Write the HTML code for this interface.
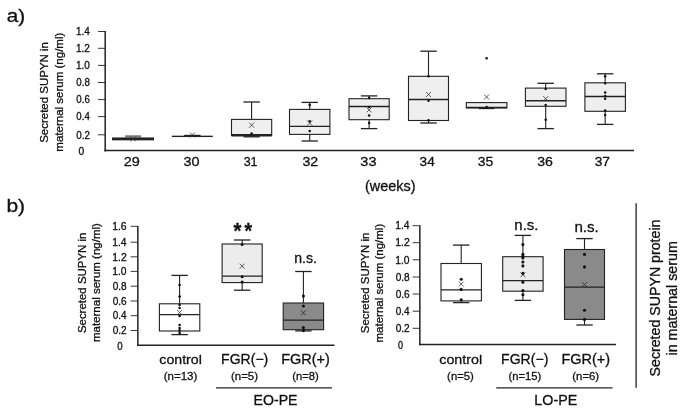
<!DOCTYPE html>
<html><head><meta charset="utf-8"><title>Secreted SUPYN in maternal serum</title>
<style>
html,body{margin:0;padding:0;background:#fff;}
body{width:685px;height:411px;overflow:hidden;}
svg{display:block;}
svg text{font-family:"Liberation Sans","Helvetica","Arial",sans-serif;stroke:#111;stroke-width:0.3px;stroke-linejoin:round;}
</style></head><body>
<svg width="685" height="411" viewBox="0 0 685 411">
<rect width="685" height="411" fill="#fff"/>
<text transform="translate(6.67,22.00) scale(1.1205,1)" font-size="18.5" fill="#111">a)</text>
<line x1="105.20" y1="31.10" x2="105.20" y2="151.40" stroke="#222" stroke-width="1.5"/>
<text transform="translate(78.44,155.10) scale(1.0309,1)" font-size="10.0" fill="#111">0</text>
<line x1="98.00" y1="134.80" x2="105.20" y2="134.80" stroke="#222" stroke-width="0.9"/>
<text transform="translate(76.36,138.50) scale(0.9779,1)" font-size="10.0" fill="#111">0.2</text>
<line x1="98.00" y1="116.60" x2="105.20" y2="116.60" stroke="#222" stroke-width="0.9"/>
<text transform="translate(76.36,120.30) scale(0.9631,1)" font-size="10.0" fill="#111">0.4</text>
<line x1="98.00" y1="99.60" x2="105.20" y2="99.60" stroke="#222" stroke-width="0.9"/>
<text transform="translate(76.36,103.30) scale(0.9741,1)" font-size="10.0" fill="#111">0.6</text>
<line x1="98.00" y1="82.50" x2="105.20" y2="82.50" stroke="#222" stroke-width="0.9"/>
<text transform="translate(76.36,86.20) scale(0.9741,1)" font-size="10.0" fill="#111">0.8</text>
<line x1="98.00" y1="65.40" x2="105.20" y2="65.40" stroke="#222" stroke-width="0.9"/>
<text transform="translate(75.95,69.10) scale(1.0008,1)" font-size="10.0" fill="#111">1.0</text>
<line x1="98.00" y1="48.30" x2="105.20" y2="48.30" stroke="#222" stroke-width="0.9"/>
<text transform="translate(75.94,52.00) scale(1.0087,1)" font-size="10.0" fill="#111">1.2</text>
<line x1="98.00" y1="31.50" x2="105.20" y2="31.50" stroke="#222" stroke-width="0.9"/>
<text transform="translate(75.96,35.20) scale(0.9930,1)" font-size="10.0" fill="#111">1.4</text>
<line x1="104.40" y1="150.60" x2="634.00" y2="150.60" stroke="#222" stroke-width="1.5"/>
<text transform="translate(48.30,142.82) rotate(-90) scale(0.9983,1)" font-size="11.5" fill="#111">Secreted SUPYN in</text>
<text transform="translate(62.90,151.65) rotate(-90) scale(1.0021,1)" font-size="11.5" fill="#111">maternal serum (ng/ml)</text>
<text transform="translate(123.68,166.10) scale(1.0637,1)" font-size="13.6" fill="#111">29</text>
<text transform="translate(183.50,166.10) scale(1.0593,1)" font-size="13.6" fill="#111">30</text>
<text transform="translate(243.66,166.10) scale(0.9199,1)" font-size="13.6" fill="#111">31</text>
<text transform="translate(302.50,166.10) scale(1.0411,1)" font-size="13.6" fill="#111">32</text>
<text transform="translate(360.29,166.10) scale(1.0716,1)" font-size="13.6" fill="#111">33</text>
<text transform="translate(419.62,166.10) scale(1.0003,1)" font-size="13.6" fill="#111">34</text>
<text transform="translate(477.71,166.10) scale(1.0290,1)" font-size="13.6" fill="#111">35</text>
<text transform="translate(537.21,166.10) scale(1.0361,1)" font-size="13.6" fill="#111">36</text>
<text transform="translate(594.72,166.10) scale(1.0126,1)" font-size="13.6" fill="#111">37</text>
<text transform="translate(365.03,191.00) scale(1.0455,1)" font-size="13.8" fill="#111">(weeks)</text>
<rect x="125.1" y="135.3" width="16" height="2.2" fill="#7a7a7a"/>
<rect x="112.60" y="138.00" width="40.90" height="1.80" fill="#efefef" stroke="#222" stroke-width="1.1"/>
<line x1="112.60" y1="138.90" x2="153.50" y2="138.90" stroke="#222" stroke-width="2.0"/>
<line x1="130.55" y1="136.40" x2="135.55" y2="141.40" stroke="#333" stroke-width="0.8"/>
<line x1="130.55" y1="141.40" x2="135.55" y2="136.40" stroke="#333" stroke-width="0.8"/>
<line x1="192.35" y1="135.50" x2="192.35" y2="136.10" stroke="#222" stroke-width="1.1"/>
<line x1="184.15" y1="135.50" x2="200.55" y2="135.50" stroke="#222" stroke-width="1.4"/>
<rect x="172.20" y="136.10" width="40.30" height="0.60" fill="#efefef" stroke="#222" stroke-width="0.7"/>
<line x1="172.20" y1="136.40" x2="212.50" y2="136.40" stroke="#222" stroke-width="0.8"/>
<line x1="189.85" y1="132.50" x2="194.85" y2="137.50" stroke="#333" stroke-width="0.8"/>
<line x1="189.85" y1="137.50" x2="194.85" y2="132.50" stroke="#333" stroke-width="0.8"/>
<line x1="251.60" y1="102.00" x2="251.60" y2="119.40" stroke="#222" stroke-width="1.1"/>
<line x1="243.40" y1="102.00" x2="259.80" y2="102.00" stroke="#222" stroke-width="1.3"/>
<line x1="251.60" y1="135.40" x2="251.60" y2="136.80" stroke="#222" stroke-width="1.1"/>
<line x1="243.40" y1="136.80" x2="259.80" y2="136.80" stroke="#222" stroke-width="1.3"/>
<rect x="231.50" y="119.40" width="40.20" height="16.00" fill="#efefef" stroke="#222" stroke-width="1.1"/>
<line x1="231.50" y1="135.20" x2="271.70" y2="135.20" stroke="#222" stroke-width="2.4"/>
<circle cx="251.60" cy="133.60" r="1.25" fill="#111"/>
<line x1="249.10" y1="122.70" x2="254.10" y2="127.70" stroke="#333" stroke-width="0.8"/>
<line x1="249.10" y1="127.70" x2="254.10" y2="122.70" stroke="#333" stroke-width="0.8"/>
<line x1="309.70" y1="102.40" x2="309.70" y2="109.40" stroke="#222" stroke-width="1.1"/>
<line x1="301.50" y1="102.40" x2="317.90" y2="102.40" stroke="#222" stroke-width="1.3"/>
<line x1="309.70" y1="134.40" x2="309.70" y2="141.00" stroke="#222" stroke-width="1.1"/>
<line x1="301.50" y1="141.00" x2="317.90" y2="141.00" stroke="#222" stroke-width="1.3"/>
<rect x="289.50" y="109.40" width="40.40" height="25.00" fill="#efefef" stroke="#222" stroke-width="1.1"/>
<line x1="289.50" y1="126.40" x2="329.90" y2="126.40" stroke="#222" stroke-width="1.3"/>
<circle cx="309.70" cy="105.00" r="1.25" fill="#111"/>
<circle cx="309.70" cy="121.20" r="1.25" fill="#111"/>
<circle cx="309.70" cy="131.00" r="1.25" fill="#111"/>
<line x1="307.20" y1="120.50" x2="312.20" y2="125.50" stroke="#333" stroke-width="0.8"/>
<line x1="307.20" y1="125.50" x2="312.20" y2="120.50" stroke="#333" stroke-width="0.8"/>
<line x1="369.10" y1="95.90" x2="369.10" y2="98.70" stroke="#222" stroke-width="1.1"/>
<line x1="360.90" y1="95.90" x2="377.30" y2="95.90" stroke="#222" stroke-width="1.3"/>
<line x1="369.10" y1="119.70" x2="369.10" y2="128.60" stroke="#222" stroke-width="1.1"/>
<line x1="360.90" y1="128.60" x2="377.30" y2="128.60" stroke="#222" stroke-width="1.3"/>
<rect x="349.00" y="98.70" width="40.20" height="21.00" fill="#efefef" stroke="#222" stroke-width="1.1"/>
<line x1="349.00" y1="106.50" x2="389.20" y2="106.50" stroke="#222" stroke-width="1.3"/>
<circle cx="369.10" cy="97.90" r="1.25" fill="#111"/>
<circle cx="369.10" cy="107.10" r="1.25" fill="#111"/>
<circle cx="369.10" cy="115.50" r="1.25" fill="#111"/>
<circle cx="369.10" cy="123.00" r="1.25" fill="#111"/>
<line x1="366.60" y1="107.40" x2="371.60" y2="112.40" stroke="#333" stroke-width="0.8"/>
<line x1="366.60" y1="112.40" x2="371.60" y2="107.40" stroke="#333" stroke-width="0.8"/>
<line x1="428.50" y1="51.20" x2="428.50" y2="76.30" stroke="#222" stroke-width="1.1"/>
<line x1="420.30" y1="51.20" x2="436.70" y2="51.20" stroke="#222" stroke-width="1.3"/>
<line x1="428.50" y1="120.50" x2="428.50" y2="123.00" stroke="#222" stroke-width="1.1"/>
<line x1="420.30" y1="123.00" x2="436.70" y2="123.00" stroke="#222" stroke-width="1.3"/>
<rect x="408.50" y="76.30" width="40.00" height="44.20" fill="#efefef" stroke="#222" stroke-width="1.1"/>
<line x1="408.50" y1="99.50" x2="448.50" y2="99.50" stroke="#222" stroke-width="1.3"/>
<circle cx="428.50" cy="76.30" r="1.25" fill="#111"/>
<circle cx="428.50" cy="100.70" r="1.25" fill="#111"/>
<circle cx="428.50" cy="120.20" r="1.25" fill="#111"/>
<line x1="426.00" y1="92.00" x2="431.00" y2="97.00" stroke="#333" stroke-width="0.8"/>
<line x1="426.00" y1="97.00" x2="431.00" y2="92.00" stroke="#333" stroke-width="0.8"/>
<line x1="486.60" y1="107.90" x2="486.60" y2="108.50" stroke="#222" stroke-width="1.1"/>
<line x1="478.85" y1="108.50" x2="494.35" y2="108.50" stroke="#222" stroke-width="1.3"/>
<rect x="466.30" y="102.60" width="40.60" height="5.30" fill="#efefef" stroke="#222" stroke-width="1.1"/>
<line x1="466.30" y1="107.50" x2="506.90" y2="107.50" stroke="#222" stroke-width="1.3"/>
<circle cx="486.60" cy="58.20" r="1.25" fill="#111"/>
<circle cx="486.60" cy="107.00" r="1.25" fill="#111"/>
<line x1="484.10" y1="94.50" x2="489.10" y2="99.50" stroke="#333" stroke-width="0.8"/>
<line x1="484.10" y1="99.50" x2="489.10" y2="94.50" stroke="#333" stroke-width="0.8"/>
<line x1="545.70" y1="83.30" x2="545.70" y2="88.10" stroke="#222" stroke-width="1.1"/>
<line x1="537.50" y1="83.30" x2="553.90" y2="83.30" stroke="#222" stroke-width="1.3"/>
<line x1="545.70" y1="106.30" x2="545.70" y2="128.60" stroke="#222" stroke-width="1.1"/>
<line x1="537.50" y1="128.60" x2="553.90" y2="128.60" stroke="#222" stroke-width="1.3"/>
<rect x="525.40" y="88.10" width="40.60" height="18.20" fill="#efefef" stroke="#222" stroke-width="1.1"/>
<line x1="525.40" y1="100.70" x2="566.00" y2="100.70" stroke="#222" stroke-width="1.5"/>
<circle cx="545.70" cy="88.90" r="1.25" fill="#111"/>
<circle cx="545.70" cy="105.10" r="1.25" fill="#111"/>
<circle cx="545.70" cy="119.70" r="1.25" fill="#111"/>
<line x1="543.20" y1="96.20" x2="548.20" y2="101.20" stroke="#333" stroke-width="0.8"/>
<line x1="543.20" y1="101.20" x2="548.20" y2="96.20" stroke="#333" stroke-width="0.8"/>
<line x1="605.15" y1="73.80" x2="605.15" y2="82.80" stroke="#222" stroke-width="1.1"/>
<line x1="596.95" y1="73.80" x2="613.35" y2="73.80" stroke="#222" stroke-width="1.3"/>
<line x1="605.15" y1="111.30" x2="605.15" y2="124.40" stroke="#222" stroke-width="1.1"/>
<line x1="596.95" y1="124.40" x2="613.35" y2="124.40" stroke="#222" stroke-width="1.3"/>
<rect x="584.90" y="82.80" width="40.50" height="28.50" fill="#efefef" stroke="#222" stroke-width="1.1"/>
<line x1="584.90" y1="96.50" x2="625.40" y2="96.50" stroke="#222" stroke-width="1.3"/>
<circle cx="605.15" cy="76.30" r="1.25" fill="#111"/>
<circle cx="605.15" cy="83.30" r="1.25" fill="#111"/>
<circle cx="605.15" cy="92.60" r="1.25" fill="#111"/>
<circle cx="605.15" cy="95.90" r="1.25" fill="#111"/>
<circle cx="605.15" cy="98.70" r="1.25" fill="#111"/>
<circle cx="605.15" cy="110.50" r="1.25" fill="#111"/>
<circle cx="605.15" cy="114.90" r="1.25" fill="#111"/>
<text transform="translate(6.44,212.40) scale(1.1355,1)" font-size="18.5" fill="#111">b)</text>
<line x1="137.85" y1="225.90" x2="137.85" y2="346.10" stroke="#222" stroke-width="1.5"/>
<text transform="translate(117.36,349.80) scale(0.9691,1)" font-size="10.0" fill="#111">0</text>
<line x1="130.65" y1="330.50" x2="137.85" y2="330.50" stroke="#222" stroke-width="0.9"/>
<text transform="translate(112.65,334.20) scale(1.0084,1)" font-size="10.0" fill="#111">0.2</text>
<line x1="130.65" y1="315.70" x2="137.85" y2="315.70" stroke="#222" stroke-width="0.9"/>
<text transform="translate(112.65,319.40) scale(0.9932,1)" font-size="10.0" fill="#111">0.4</text>
<line x1="130.65" y1="301.00" x2="137.85" y2="301.00" stroke="#222" stroke-width="0.9"/>
<text transform="translate(112.65,304.70) scale(1.0046,1)" font-size="10.0" fill="#111">0.6</text>
<line x1="130.65" y1="286.20" x2="137.85" y2="286.20" stroke="#222" stroke-width="0.9"/>
<text transform="translate(112.65,289.90) scale(1.0046,1)" font-size="10.0" fill="#111">0.8</text>
<line x1="130.65" y1="271.40" x2="137.85" y2="271.40" stroke="#222" stroke-width="0.9"/>
<text transform="translate(112.23,275.10) scale(1.0321,1)" font-size="10.0" fill="#111">1.0</text>
<line x1="130.65" y1="256.80" x2="137.85" y2="256.80" stroke="#222" stroke-width="0.9"/>
<text transform="translate(112.22,260.50) scale(1.0402,1)" font-size="10.0" fill="#111">1.2</text>
<line x1="130.65" y1="242.20" x2="137.85" y2="242.20" stroke="#222" stroke-width="0.9"/>
<text transform="translate(112.23,245.90) scale(1.0241,1)" font-size="10.0" fill="#111">1.4</text>
<line x1="130.65" y1="226.30" x2="137.85" y2="226.30" stroke="#222" stroke-width="0.9"/>
<text transform="translate(112.22,230.00) scale(1.0361,1)" font-size="10.0" fill="#111">1.6</text>
<line x1="137.10" y1="345.30" x2="334.50" y2="345.30" stroke="#222" stroke-width="1.5"/>
<text transform="translate(85.60,333.12) rotate(-90) scale(0.9973,1)" font-size="11.5" fill="#111">Secreted SUPYN in</text>
<text transform="translate(100.10,342.05) rotate(-90) scale(1.0013,1)" font-size="11.5" fill="#111">maternal serum (ng/ml)</text>
<line x1="179.60" y1="275.40" x2="179.60" y2="303.80" stroke="#222" stroke-width="1.1"/>
<line x1="171.40" y1="275.40" x2="187.80" y2="275.40" stroke="#222" stroke-width="1.3"/>
<line x1="179.60" y1="331.00" x2="179.60" y2="334.60" stroke="#222" stroke-width="1.1"/>
<line x1="171.40" y1="334.60" x2="187.80" y2="334.60" stroke="#222" stroke-width="1.3"/>
<rect x="159.40" y="303.80" width="40.40" height="27.20" fill="#ffffff" stroke="#222" stroke-width="1.1"/>
<line x1="159.40" y1="314.60" x2="199.80" y2="314.60" stroke="#222" stroke-width="1.3"/>
<circle cx="179.60" cy="285.00" r="1.3" fill="#111"/>
<circle cx="179.60" cy="296.60" r="1.3" fill="#111"/>
<circle cx="179.60" cy="305.00" r="1.3" fill="#111"/>
<circle cx="179.60" cy="308.00" r="1.3" fill="#111"/>
<circle cx="179.60" cy="316.00" r="1.3" fill="#111"/>
<circle cx="179.60" cy="325.00" r="1.3" fill="#111"/>
<circle cx="179.60" cy="328.00" r="1.3" fill="#111"/>
<circle cx="179.60" cy="330.30" r="1.3" fill="#111"/>
<circle cx="179.60" cy="333.00" r="1.3" fill="#111"/>
<line x1="177.10" y1="309.90" x2="182.10" y2="314.90" stroke="#333" stroke-width="0.8"/>
<line x1="177.10" y1="314.90" x2="182.10" y2="309.90" stroke="#333" stroke-width="0.8"/>
<line x1="242.15" y1="240.00" x2="242.15" y2="244.00" stroke="#222" stroke-width="1.1"/>
<line x1="233.95" y1="240.00" x2="250.35" y2="240.00" stroke="#222" stroke-width="1.3"/>
<line x1="242.15" y1="282.60" x2="242.15" y2="290.20" stroke="#222" stroke-width="1.1"/>
<line x1="233.95" y1="290.20" x2="250.35" y2="290.20" stroke="#222" stroke-width="1.3"/>
<rect x="222.10" y="244.00" width="40.10" height="38.60" fill="#ececec" stroke="#222" stroke-width="1.1"/>
<line x1="222.10" y1="276.10" x2="262.20" y2="276.10" stroke="#222" stroke-width="1.3"/>
<circle cx="242.15" cy="244.50" r="1.55" fill="#111"/>
<circle cx="242.15" cy="276.70" r="1.55" fill="#111"/>
<circle cx="242.15" cy="282.00" r="1.55" fill="#111"/>
<line x1="239.65" y1="263.70" x2="244.65" y2="268.70" stroke="#333" stroke-width="0.8"/>
<line x1="239.65" y1="268.70" x2="244.65" y2="263.70" stroke="#333" stroke-width="0.8"/>
<line x1="303.40" y1="271.50" x2="303.40" y2="303.00" stroke="#222" stroke-width="1.1"/>
<line x1="295.20" y1="271.50" x2="311.60" y2="271.50" stroke="#222" stroke-width="1.3"/>
<line x1="303.40" y1="329.70" x2="303.40" y2="330.90" stroke="#222" stroke-width="1.1"/>
<line x1="295.20" y1="330.90" x2="311.60" y2="330.90" stroke="#222" stroke-width="1.3"/>
<rect x="283.20" y="303.00" width="40.40" height="26.70" fill="#8a8a8a" stroke="#222" stroke-width="1.1"/>
<line x1="283.20" y1="320.10" x2="323.60" y2="320.10" stroke="#222" stroke-width="1.3"/>
<circle cx="303.40" cy="296.10" r="1.55" fill="#111"/>
<circle cx="303.40" cy="306.00" r="1.55" fill="#111"/>
<circle cx="303.40" cy="327.60" r="1.55" fill="#111"/>
<circle cx="303.40" cy="330.60" r="1.55" fill="#111"/>
<line x1="300.90" y1="310.30" x2="305.90" y2="315.30" stroke="#2a2a2a" stroke-width="0.8"/>
<line x1="300.90" y1="315.30" x2="305.90" y2="310.30" stroke="#2a2a2a" stroke-width="0.8"/>
<text transform="translate(233.60,238.30) scale(0.9207,1)" font-size="22" fill="#111" font-weight="bold">*</text>
<text transform="translate(244.50,238.30) scale(0.8858,1)" font-size="22" fill="#111" font-weight="bold">*</text>
<text transform="translate(294.28,262.80) scale(0.9413,1)" font-size="15.0" fill="#111">n.s.</text>
<text transform="translate(159.33,364.00) scale(1.0423,1)" font-size="13.6" fill="#111">control</text>
<text transform="translate(221.08,364.00) scale(1.0040,1)" font-size="14.0" fill="#111">FGR(−)</text>
<text transform="translate(281.14,364.00) scale(1.0350,1)" font-size="14.0" fill="#111">FGR(+)</text>
<text transform="translate(163.71,379.50) scale(1.0453,1)" font-size="11.0" fill="#111">(n=13)</text>
<text transform="translate(231.01,379.50) scale(1.0410,1)" font-size="11.0" fill="#111">(n=5)</text>
<text transform="translate(292.33,379.50) scale(1.0208,1)" font-size="11.0" fill="#111">(n=8)</text>
<line x1="216.00" y1="387.90" x2="332.10" y2="387.90" stroke="#222" stroke-width="1.3"/>
<text transform="translate(253.57,405.00) scale(0.9963,1)" font-size="14.2" fill="#111">EO-PE</text>
<line x1="419.85" y1="225.30" x2="419.85" y2="345.30" stroke="#222" stroke-width="1.5"/>
<text transform="translate(398.08,349.00) scale(0.9072,1)" font-size="10.0" fill="#111">0</text>
<line x1="412.65" y1="328.30" x2="419.85" y2="328.30" stroke="#222" stroke-width="0.9"/>
<text transform="translate(395.65,332.00) scale(1.0084,1)" font-size="10.0" fill="#111">0.2</text>
<line x1="412.65" y1="311.20" x2="419.85" y2="311.20" stroke="#222" stroke-width="0.9"/>
<text transform="translate(395.65,314.90) scale(0.9932,1)" font-size="10.0" fill="#111">0.4</text>
<line x1="412.65" y1="294.00" x2="419.85" y2="294.00" stroke="#222" stroke-width="0.9"/>
<text transform="translate(395.65,297.70) scale(1.0046,1)" font-size="10.0" fill="#111">0.6</text>
<line x1="412.65" y1="277.00" x2="419.85" y2="277.00" stroke="#222" stroke-width="0.9"/>
<text transform="translate(395.65,280.70) scale(1.0046,1)" font-size="10.0" fill="#111">0.8</text>
<line x1="412.65" y1="259.80" x2="419.85" y2="259.80" stroke="#222" stroke-width="0.9"/>
<text transform="translate(395.23,263.50) scale(1.0321,1)" font-size="10.0" fill="#111">1.0</text>
<line x1="412.65" y1="242.70" x2="419.85" y2="242.70" stroke="#222" stroke-width="0.9"/>
<text transform="translate(395.22,246.40) scale(1.0402,1)" font-size="10.0" fill="#111">1.2</text>
<line x1="412.65" y1="225.70" x2="419.85" y2="225.70" stroke="#222" stroke-width="0.9"/>
<text transform="translate(395.23,229.40) scale(1.0241,1)" font-size="10.0" fill="#111">1.4</text>
<line x1="419.10" y1="344.50" x2="616.00" y2="344.50" stroke="#222" stroke-width="1.5"/>
<text transform="translate(369.20,333.22) rotate(-90) scale(0.9963,1)" font-size="11.5" fill="#111">Secreted SUPYN in</text>
<text transform="translate(382.60,342.45) rotate(-90) scale(0.9996,1)" font-size="11.5" fill="#111">maternal serum (ng/ml)</text>
<line x1="461.20" y1="245.10" x2="461.20" y2="263.50" stroke="#222" stroke-width="1.1"/>
<line x1="453.00" y1="245.10" x2="469.40" y2="245.10" stroke="#222" stroke-width="1.3"/>
<line x1="461.20" y1="300.90" x2="461.20" y2="302.60" stroke="#222" stroke-width="1.1"/>
<line x1="453.00" y1="302.60" x2="469.40" y2="302.60" stroke="#222" stroke-width="1.3"/>
<rect x="441.00" y="263.50" width="40.40" height="37.40" fill="#ffffff" stroke="#222" stroke-width="1.1"/>
<line x1="441.00" y1="289.80" x2="481.40" y2="289.80" stroke="#222" stroke-width="1.3"/>
<circle cx="461.20" cy="279.30" r="1.55" fill="#111"/>
<circle cx="461.20" cy="289.40" r="1.55" fill="#111"/>
<circle cx="461.20" cy="299.80" r="1.55" fill="#111"/>
<line x1="458.70" y1="281.50" x2="463.70" y2="286.50" stroke="#333" stroke-width="0.8"/>
<line x1="458.70" y1="286.50" x2="463.70" y2="281.50" stroke="#333" stroke-width="0.8"/>
<line x1="522.90" y1="235.40" x2="522.90" y2="256.70" stroke="#222" stroke-width="1.1"/>
<line x1="514.70" y1="235.40" x2="531.10" y2="235.40" stroke="#222" stroke-width="1.3"/>
<line x1="522.90" y1="291.20" x2="522.90" y2="300.40" stroke="#222" stroke-width="1.1"/>
<line x1="514.70" y1="300.40" x2="531.10" y2="300.40" stroke="#222" stroke-width="1.3"/>
<rect x="502.70" y="256.70" width="40.40" height="34.50" fill="#ececec" stroke="#222" stroke-width="1.1"/>
<line x1="502.70" y1="280.70" x2="543.10" y2="280.70" stroke="#222" stroke-width="1.3"/>
<circle cx="522.90" cy="244.60" r="1.55" fill="#111"/>
<circle cx="522.90" cy="254.40" r="1.55" fill="#111"/>
<circle cx="522.90" cy="256.20" r="1.55" fill="#111"/>
<circle cx="522.90" cy="258.00" r="1.55" fill="#111"/>
<circle cx="522.90" cy="262.00" r="1.55" fill="#111"/>
<circle cx="522.90" cy="265.90" r="1.55" fill="#111"/>
<circle cx="522.90" cy="273.40" r="1.55" fill="#111"/>
<circle cx="522.90" cy="282.30" r="1.55" fill="#111"/>
<circle cx="522.90" cy="290.50" r="1.55" fill="#111"/>
<circle cx="522.90" cy="294.80" r="1.55" fill="#111"/>
<line x1="520.40" y1="272.30" x2="525.40" y2="277.30" stroke="#333" stroke-width="0.8"/>
<line x1="520.40" y1="277.30" x2="525.40" y2="272.30" stroke="#333" stroke-width="0.8"/>
<line x1="584.50" y1="238.60" x2="584.50" y2="249.50" stroke="#222" stroke-width="1.1"/>
<line x1="576.30" y1="238.60" x2="592.70" y2="238.60" stroke="#222" stroke-width="1.3"/>
<line x1="584.50" y1="319.40" x2="584.50" y2="325.00" stroke="#222" stroke-width="1.1"/>
<line x1="576.30" y1="325.00" x2="592.70" y2="325.00" stroke="#222" stroke-width="1.3"/>
<rect x="564.50" y="249.50" width="40.00" height="69.90" fill="#8a8a8a" stroke="#222" stroke-width="1.1"/>
<line x1="564.50" y1="287.20" x2="604.50" y2="287.20" stroke="#222" stroke-width="1.3"/>
<circle cx="584.50" cy="254.40" r="1.55" fill="#111"/>
<circle cx="584.50" cy="266.90" r="1.55" fill="#111"/>
<circle cx="584.50" cy="310.20" r="1.55" fill="#111"/>
<circle cx="584.50" cy="319.40" r="1.55" fill="#111"/>
<line x1="582.00" y1="282.10" x2="587.00" y2="287.10" stroke="#2a2a2a" stroke-width="0.8"/>
<line x1="582.00" y1="287.10" x2="587.00" y2="282.10" stroke="#2a2a2a" stroke-width="0.8"/>
<text transform="translate(514.33,229.80) scale(1.0234,1)" font-size="14.6" fill="#111">n.s.</text>
<text transform="translate(574.42,232.00) scale(1.0375,1)" font-size="14.6" fill="#111">n.s.</text>
<text transform="translate(439.23,364.00) scale(1.0525,1)" font-size="13.6" fill="#111">control</text>
<text transform="translate(501.07,364.00) scale(1.0062,1)" font-size="14.0" fill="#111">FGR(−)</text>
<text transform="translate(561.44,364.00) scale(1.0328,1)" font-size="14.0" fill="#111">FGR(+)</text>
<text transform="translate(447.12,379.50) scale(1.0289,1)" font-size="11.0" fill="#111">(n=5)</text>
<text transform="translate(508.53,379.50) scale(1.0193,1)" font-size="11.0" fill="#111">(n=15)</text>
<text transform="translate(572.32,379.50) scale(1.0329,1)" font-size="11.0" fill="#111">(n=6)</text>
<line x1="496.20" y1="387.80" x2="612.50" y2="387.80" stroke="#222" stroke-width="1.3"/>
<text transform="translate(534.36,405.00) scale(1.0078,1)" font-size="14.2" fill="#111">LO-PE</text>
<line x1="636.10" y1="203.20" x2="636.10" y2="387.80" stroke="#222" stroke-width="1.3"/>
<text transform="translate(659.90,376.44) rotate(-90) scale(0.9926,1)" font-size="14.3" fill="#111">Secreted SUPYN protein</text>
<text transform="translate(676.80,355.53) rotate(-90) scale(1.0008,1)" font-size="14.3" fill="#111">in maternal serum</text>
</svg></body></html>
